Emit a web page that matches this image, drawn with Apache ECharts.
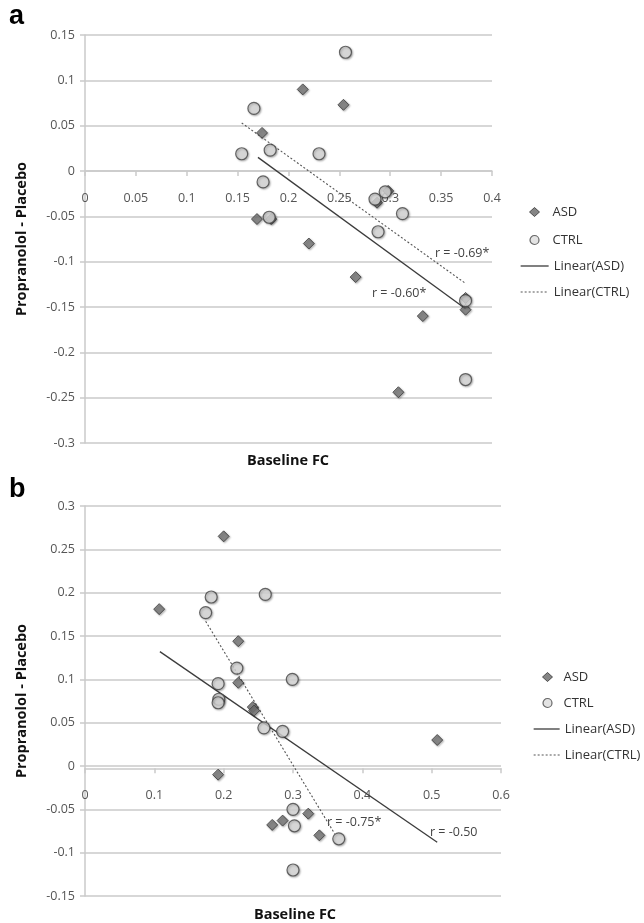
<!DOCTYPE html>
<html>
<head>
<meta charset="utf-8">
<script src="https://cdn.jsdelivr.net/npm/echarts@6/dist/echarts.min.js"></script>
<style>html,body{margin:0;padding:0;background:#fff}#c{width:644px;height:923px}</style>
</head>
<body>
<div id="c"></div>
<script>
// ---- Panel a data ----
const asdA_x = [0.214, 0.254, 0.174, 0.169, 0.183, 0.220, 0.266, 0.287, 0.298, 0.332, 0.374, 0.374, 0.308];
const asdA_y = [0.090, 0.073, 0.042, -0.053, -0.053, -0.080, -0.117, -0.035, -0.022, -0.160, -0.140, -0.153, -0.244];
const ctrlA_x = [0.256, 0.166, 0.154, 0.182, 0.230, 0.175, 0.181, 0.285, 0.295, 0.312, 0.288, 0.374, 0.374];
const ctrlA_y = [0.131, 0.069, 0.019, 0.023, 0.019, -0.012, -0.051, -0.031, -0.023, -0.047, -0.067, -0.143, -0.230];
const fitAsdA_x = [0.170, 0.374];
const fitAsdA_y = [0.015, -0.152];
const fitCtrlA_x = [0.154, 0.374];
const fitCtrlA_y = [0.053, -0.124];

// ---- Panel b data ----
const asdB_x = [0.107, 0.200, 0.221, 0.221, 0.242, 0.244, 0.192, 0.508, 0.270, 0.285, 0.322, 0.338];
const asdB_y = [0.181, 0.265, 0.144, 0.096, 0.068, 0.064, -0.010, 0.030, -0.068, -0.063, -0.055, -0.080];
const ctrlB_x = [0.182, 0.174, 0.260, 0.219, 0.192, 0.299, 0.193, 0.192, 0.258, 0.285, 0.300, 0.302, 0.366, 0.300];
const ctrlB_y = [0.195, 0.177, 0.198, 0.113, 0.095, 0.100, 0.077, 0.073, 0.044, 0.040, -0.050, -0.069, -0.084, -0.120];
const fitAsdB_x = [0.108, 0.508];
const fitAsdB_y = [0.132, -0.088];
const fitCtrlB_x = [0.174, 0.360];
const fitCtrlB_y = [0.167, -0.078];

const rLabelsA = ['r = -0.69*', 'r = -0.60*'];
const rLabelsB = ['r = -0.75*', 'r = -0.50'];

const zip = (xs, ys) => xs.map((x, i) => [x, ys[i]]);

const FONT = '"Open Sans", "Noto Sans", sans-serif';
const GRID = '#cacaca';
const TXT = '#555';

function xAxisCfg(gi, max, interval) {
  return {
    type: 'value', gridIndex: gi, min: 0, max: max, interval: interval, offset: 0,
    axisLine: { onZero: false, lineStyle: { color: GRID, width: 1.5 } },
    axisTick: { show: true, length: 5, lineStyle: { color: GRID, width: 1.5 } },
    axisLabel: { color: TXT, fontSize: 12.5, fontFamily: FONT, margin: 21 },
    splitLine: { show: false }
  };
}
function yAxisCfg(gi, min, max) {
  return {
    type: 'value', gridIndex: gi, min: min, max: max, interval: 0.05,
    name: 'Propranolol - Placebo', nameLocation: 'middle', nameGap: 56,
    nameTextStyle: { color: '#111', fontSize: 14.5, fontWeight: 'bold', fontFamily: FONT },
    axisLine: { show: true, onZero: false, lineStyle: { color: GRID, width: 1.5 } },
    axisTick: { show: true, length: 5, lineStyle: { color: GRID, width: 1.5 } },
    axisLabel: { color: TXT, fontSize: 12.5, fontFamily: FONT, margin: 10 },
    splitLine: { show: true, lineStyle: { color: GRID, width: 1.5 } }
  };
}

const asdStyle = { color: '#777', borderColor: '#3a3a3a', borderWidth: 1, shadowBlur: 2, shadowColor: 'rgba(0,0,0,0.35)', shadowOffsetX: 1, shadowOffsetY: 1 };
const ctrlStyle = { color: '#dcdcdc', borderColor: '#444', borderWidth: 1.2, shadowBlur: 2, shadowColor: 'rgba(0,0,0,0.35)', shadowOffsetX: 1, shadowOffsetY: 1 };

function panelSeries(gi, asd, ctrl, fitAsd, fitCtrl) {
  return [
    { name: 'Linear(ASD)', type: 'line', xAxisIndex: gi, yAxisIndex: gi, data: fitAsd, symbol: 'none',
      lineStyle: { color: '#3c3c3c', width: 1.3 }, itemStyle: { color: '#3c3c3c' }, z: 2, silent: true },
    { name: 'Linear(CTRL)', type: 'line', xAxisIndex: gi, yAxisIndex: gi, data: fitCtrl, symbol: 'none',
      lineStyle: { color: '#555', width: 1.1, type: [2, 2] }, itemStyle: { color: '#555' }, z: 2, silent: true },
    { name: 'ASD', type: 'scatter', xAxisIndex: gi, yAxisIndex: gi, data: asd, symbol: 'diamond', symbolSize: 11,
      itemStyle: asdStyle, z: 3 },
    { name: 'CTRL', type: 'scatter', xAxisIndex: gi, yAxisIndex: gi, data: ctrl, symbol: 'circle', symbolSize: 12,
      itemStyle: ctrlStyle, z: 4 }
  ];
}

function symLegend(left, top, gap, textPad) {
  return {
    data: [
      { name: 'ASD', icon: 'diamond', itemStyle: { color: '#666', borderColor: '#333', borderWidth: 1 } },
      { name: 'CTRL', icon: 'circle', itemStyle: { color: '#dcdcdc', borderColor: '#444', borderWidth: 1.2 } }
    ],
    orient: 'vertical', left: left, top: top, padding: 0, itemWidth: 10, itemHeight: 9, itemGap: gap,
    selectedMode: false,
    textStyle: { color: '#333', fontSize: 13, fontFamily: FONT, padding: [0, 0, 0, textPad] }
  };
}
function lineLegend(left, top, gap, width) {
  return {
    data: [
      { name: 'Linear(ASD)', itemStyle: { opacity: 0 }, lineStyle: { color: '#3c3c3c', width: 1.3, type: 'solid' } },
      { name: 'Linear(CTRL)', itemStyle: { opacity: 0 }, lineStyle: { color: '#555', width: 1.1, type: [2, 2] } }
    ],
    orient: 'vertical', left: left, top: top, padding: 0, itemWidth: width, itemHeight: 9, itemGap: gap,
    selectedMode: false,
    textStyle: { color: '#333', fontSize: 13, fontFamily: FONT }
  };
}

function txt(x, y, s, size, weight, align, color, family) {
  return { type: 'text', x: x, y: y, style: { text: s, fontSize: size, fontWeight: weight || 'normal',
    fill: color || '#444', align: align || 'left', verticalAlign: 'middle', fontFamily: family || FONT } };
}

const chart = echarts.init(document.getElementById('c'), null, { renderer: 'canvas' });
const option = {
  animation: false,
  backgroundColor: '#fff',
  grid: [
    { left: 85, top: 35, width: 407, height: 408 },
    { left: 85, top: 506, width: 416, height: 390 }
  ],
  xAxis: [xAxisCfg(0, 0.4, 0.05), xAxisCfg(1, 0.6, 0.1)],
  yAxis: [yAxisCfg(0, -0.3, 0.15), yAxisCfg(1, -0.15, 0.3)],
  legend: [
    symLegend(529, 205.5, 15, 8),
    lineLegend(520, 259.5, 13, 28),
    symLegend(542, 670.5, 13, 6),
    lineLegend(533, 722.5, 13, 26)
  ],
  series: [].concat(
    panelSeries(0, zip(asdA_x, asdA_y), zip(ctrlA_x, ctrlA_y), zip(fitAsdA_x, fitAsdA_y), zip(fitCtrlA_x, fitCtrlA_y)),
    panelSeries(1, zip(asdB_x, asdB_y), zip(ctrlB_x, ctrlB_y), zip(fitAsdB_x, fitAsdB_y), zip(fitCtrlB_x, fitCtrlB_y))
  ),
  graphic: [
    txt(9, 17, 'a', 27, 'bold', 'left', '#000', '"Liberation Sans", Arial, sans-serif'),
    txt(9, 490, 'b', 27, 'bold', 'left', '#000', '"Liberation Sans", Arial, sans-serif'),
    txt(288, 461, 'Baseline FC', 14.5, 'bold', 'center', '#111'),
    txt(295, 915, 'Baseline FC', 14.5, 'bold', 'center', '#111'),
    txt(435, 253, rLabelsA[0], 12.5, 'normal', 'left', '#444'),
    txt(372, 293, rLabelsA[1], 12.5, 'normal', 'left', '#444'),
    txt(327, 822, rLabelsB[0], 12.5, 'normal', 'left', '#444'),
    txt(430, 832, rLabelsB[1], 12.5, 'normal', 'left', '#444')
  ]
};
chart.setOption(option);

// Move each x axis so that it crosses the y axis at zero (computed through the chart's own scales).
const offsets = [0, 1].map(function (gi) {
  const zeroPx = chart.convertToPixel({ xAxisIndex: gi, yAxisIndex: gi }, [0, 0])[1];
  const minY = option.yAxis[gi].min;
  const bottomPx = chart.convertToPixel({ xAxisIndex: gi, yAxisIndex: gi }, [0, minY])[1];
  return zeroPx - bottomPx;
});
chart.setOption({ xAxis: [{ offset: offsets[0] }, { offset: offsets[1] }] });
</script>
</body>
</html>
